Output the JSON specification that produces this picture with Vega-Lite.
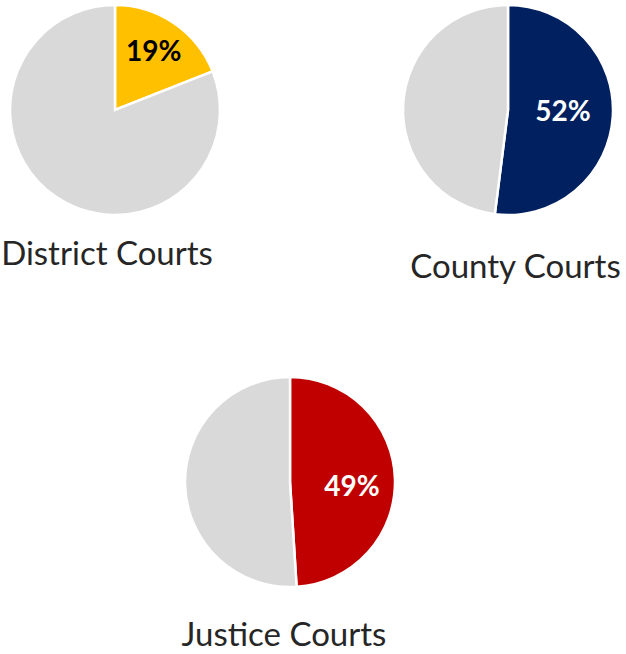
{
  "$schema": "https://vega.github.io/schema/vega-lite/v6.json",
  "padding": 0,
  "autosize": {"type": "pad"},
  "background": "white",
  "config": {"view": {"stroke": null}, "title": {"font": "Lato", "fontSize": 33, "fontWeight": "normal", "color": "#262626", "baseline": "alphabetic"}},
  "data": {"values": [
    {"court": "District Courts", "part": "share", "value": 0.19},
    {"court": "District Courts", "part": "rest", "value": 0.81},
    {"court": "County Courts", "part": "share", "value": 0.52},
    {"court": "County Courts", "part": "rest", "value": 0.48},
    {"court": "Justice Courts", "part": "share", "value": 0.49},
    {"court": "Justice Courts", "part": "rest", "value": 0.51}
  ]},
  "bounds": "flush",
  "spacing": 372,
  "resolve": {"scale": {"color": "independent", "theta": "independent"}},
  "vconcat": [
    {
      "hconcat": [
        {
          "width": 230, "height": 216,
          "title": {"text": "District Courts", "orient": "bottom", "offset": 45, "dx": -8, "baseline": "alphabetic"},
          "transform": [{"filter": "datum.court === 'District Courts'"}],
          "layer": [
            {"mark": {"type": "arc", "outerRadius": 105, "stroke": "white", "strokeWidth": 2.5},
             "encoding": {
               "theta": {"field": "value", "type": "quantitative", "stack": true},
               "order": {"field": "part", "sort": "descending"},
               "color": {"field": "part", "type": "nominal", "scale": {"domain": ["share", "rest"], "range": ["#FFC000", "#D9D9D9"]}, "legend": null}
             }},
            {"transform": [{"filter": "datum.part === 'share'"}],
             "mark": {"type": "text", "radius": 69, "font": "Lato", "fontWeight": "bold", "fontSize": 28, "color": "#000000"},
             "encoding": {
               "theta": {"field": "value", "type": "quantitative", "stack": true},
               "text": {"field": "value", "type": "quantitative", "format": ".0%"}
             }}
          ]
        },
        {
          "width": 216, "height": 216,
          "title": {"text": "County Courts", "orient": "bottom", "offset": 58, "dx": 7.5, "baseline": "alphabetic"},
          "transform": [{"filter": "datum.court === 'County Courts'"}],
          "layer": [
            {"mark": {"type": "arc", "outerRadius": 105, "stroke": "white", "strokeWidth": 2.5},
             "encoding": {
               "theta": {"field": "value", "type": "quantitative", "stack": true},
               "order": {"field": "part", "sort": "descending"},
               "color": {"field": "part", "type": "nominal", "scale": {"domain": ["share", "rest"], "range": ["#002060", "#D9D9D9"]}, "legend": null}
             }},
            {"transform": [{"filter": "datum.part === 'share'"}],
             "mark": {"type": "text", "radius": 55, "font": "Lato", "fontWeight": "bold", "fontSize": 28, "color": "#ffffff"},
             "encoding": {
               "theta": {"field": "value", "type": "quantitative", "stack": true},
               "text": {"field": "value", "type": "quantitative", "format": ".0%"}
             }}
          ]
        }
      ],
      "spacing": 170,
      "bounds": "flush",
      "resolve": {"scale": {"color": "independent", "theta": "independent"}}
    },
    {
      "width": 580, "height": 216,
      "title": {"text": "Justice Courts", "orient": "bottom", "offset": 54, "dx": -6, "baseline": "alphabetic"},
      "transform": [{"filter": "datum.court === 'Justice Courts'"}],
      "layer": [
        {"mark": {"type": "arc", "outerRadius": 105, "stroke": "white", "strokeWidth": 2.5},
         "encoding": {
           "theta": {"field": "value", "type": "quantitative", "stack": true},
           "order": {"field": "part", "sort": "descending"},
           "color": {"field": "part", "type": "nominal", "scale": {"domain": ["share", "rest"], "range": ["#C00000", "#D9D9D9"]}, "legend": null}
         }},
        {"transform": [{"filter": "datum.part === 'share'"}],
         "mark": {"type": "text", "radius": 62, "dy": 8, "font": "Lato", "fontWeight": "bold", "fontSize": 28, "color": "#ffffff"},
         "encoding": {
           "theta": {"field": "value", "type": "quantitative", "stack": true},
           "text": {"field": "value", "type": "quantitative", "format": ".0%"}
         }}
      ]
    }
  ]
}
